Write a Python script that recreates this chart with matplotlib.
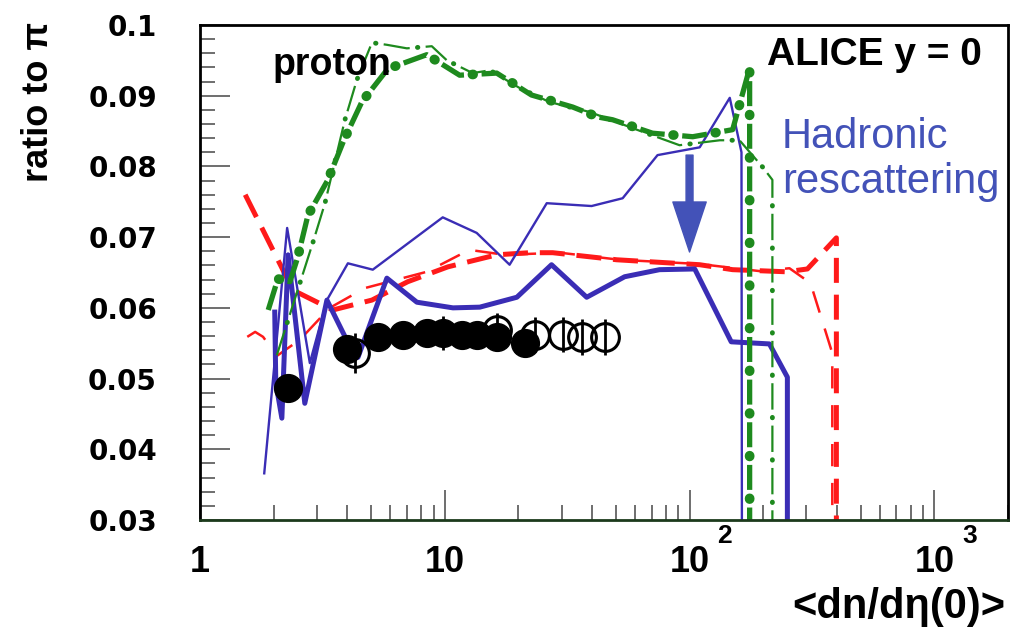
import numpy as np
import matplotlib.pyplot as plt
from matplotlib.ticker import MultipleLocator

plt.rcParams['font.family'] = ['Liberation Sans', 'DejaVu Sans']
plt.rcParams['lines.scale_dashes'] = False

# model curves (x = <dn/deta(0)>, y = ratio to pi)
blue_thin_x = [1.83, 2.27, 2.81, 3.30, 4.02, 5.08, 9.81, 13.5, 18.4, 26.1, 39.8, 53.3, 74.0, 110, 146, 163, 164]
blue_thin_y = [0.0366, 0.0713, 0.0522, 0.0611, 0.0663, 0.0654, 0.0728, 0.0706, 0.0661, 0.0748, 0.0744, 0.0755, 0.0816, 0.0827, 0.0897, 0.0820, 0.0]

blue_thick_x = [2.02, 2.04, 2.16, 2.29, 2.68, 3.30, 4.10, 4.42, 5.80, 7.69, 10.8, 13.9, 19.7, 27.3, 38.0, 54.3, 75.4, 105, 148, 212, 251, 251]
blue_thick_y = [0.0594, 0.0494, 0.0444, 0.0675, 0.0465, 0.0611, 0.0545, 0.0530, 0.0642, 0.0608, 0.0600, 0.0601, 0.0615, 0.0661, 0.0615, 0.0644, 0.0654, 0.0655, 0.0552, 0.0549, 0.0502, 0.0]

red_thick_x = [1.53, 2.40, 3.49, 5.04, 7.06, 10.3, 16.3, 22.2, 27.6, 50.4, 110, 150, 249, 303, 398, 398]
red_thick_y = [0.0760, 0.0625, 0.0597, 0.0611, 0.0637, 0.0658, 0.0675, 0.0678, 0.0678, 0.0668, 0.0661, 0.0654, 0.0651, 0.0655, 0.0699, 0.0]

red_thin_x = [1.56, 1.68, 1.81, 2.06, 2.56, 3.39, 4.72, 8.44, 12.6, 17.6, 29.5, 51.8, 110, 193, 256, 312, 383, 383]
red_thin_y = [0.0559, 0.0566, 0.0559, 0.0532, 0.0555, 0.0600, 0.0628, 0.0651, 0.0682, 0.0675, 0.0678, 0.0668, 0.0662, 0.0652, 0.0656, 0.0635, 0.0536, 0.0]

green_thick_x = [1.90, 2.08, 2.33, 2.51, 2.76, 3.33, 3.87, 4.58, 5.85, 8.44, 11.5, 16.3, 22.6, 33.3, 42.1, 48.5, 70.6, 103, 150, 176, 176]
green_thick_y = [0.0597, 0.0641, 0.0637, 0.0672, 0.0731, 0.0781, 0.0837, 0.0891, 0.0938, 0.0958, 0.0929, 0.0932, 0.0901, 0.0884, 0.0870, 0.0866, 0.0847, 0.0842, 0.0852, 0.0939, 0.0]

green_thin_x = [2.06, 2.89, 3.24, 3.91, 4.37, 5.04, 5.80, 7.0, 8.85, 10.2, 13.0, 15.3, 20.2, 26.8, 39.1, 60.8, 91.0, 133, 160, 199, 218, 218]
green_thin_y = [0.0533, 0.0692, 0.0748, 0.0866, 0.0922, 0.0975, 0.0972, 0.0967, 0.0970, 0.0950, 0.0932, 0.0936, 0.0911, 0.0891, 0.0877, 0.0852, 0.0830, 0.0837, 0.0837, 0.0799, 0.0781, 0.0]

# ALICE data points
filled_x = [2.29, 3.98, 5.33, 6.74, 8.44, 9.81, 11.8, 13.6, 16.3, 21.2]
filled_y = [0.0487, 0.0542, 0.0559, 0.0562, 0.0564, 0.0564, 0.0562, 0.0562, 0.0559, 0.0550]
filled_err = [0.0008, 0.0010, 0.0012, 0.0012, 0.0015, 0.0024, 0.0012, 0.0012, 0.0015, 0.0010]
open_x = [4.29, 16.3, 23.3, 30.3, 36.3, 45.0]
open_y = [0.0536, 0.0568, 0.0562, 0.0562, 0.0559, 0.0559]
open_err = [0.0028, 0.0025, 0.0025, 0.0025, 0.0025, 0.0025]

yticks = [0.03, 0.04, 0.05, 0.06, 0.07, 0.08, 0.09, 0.1]
ytick_labels = ['0.03', '0.04', '0.05', '0.06', '0.07', '0.08', '0.09', '0.1']
xtick_vals = [1, 10, 100, 1000]
xtick_base = ['1', '10', '10', '10']
xtick_exp = ['', '', '2', '3']

blue = '#3a2db5'
blue_txt = '#4352b8'
red = '#ff1a1a'
green = '#1e8a1e'

fig = plt.figure(figsize=(10.11, 6.28), dpi=100)
ax = fig.add_axes([200 / 1011, 108 / 628, 808 / 1011, 495 / 628])
ax.set_xscale('log')
ax.set_xlim(1, 2000)
ax.set_ylim(0.03, 0.1)

ax.plot(red_thin_x, red_thin_y, color=red, lw=1.8, ls=(0, (16, 12)))
ax.plot(red_thick_x, red_thick_y, color=red, lw=3.6, ls=(0, (18, 8.5)))
ax.plot(blue_thin_x, blue_thin_y, color=blue, lw=1.7)
ax.plot(blue_thick_x, blue_thick_y, color=blue, lw=3.6)
ax.plot(green_thin_x, green_thin_y, color=green, lw=1.6, ls=(0, (19, 11.5)))
ax.plot(green_thin_x, green_thin_y, color=green, lw=3.5, ls=(5.9, (0.3, 30.2)), dash_capstyle='round')
ax.plot(green_thick_x, green_thick_y, color=green, lw=3.8, ls=(0, (18, 12.7)))
ax.plot(green_thick_x, green_thick_y, color=green, lw=7, ls=(6.6, (0.5, 30.2)), dash_capstyle='round')

ax.errorbar(filled_x, filled_y, yerr=filled_err, fmt='o', color='k', ms=20,
            elinewidth=2, capsize=0, zorder=5)
ax.errorbar(open_x, open_y, yerr=open_err, fmt='o', mfc='none', mec='k', ms=20,
            mew=2.2, ecolor='k', elinewidth=2, capsize=0, zorder=5)

ax.annotate('', xy=(100, 0.0679), xytext=(100, 0.0816),
            arrowprops=dict(arrowstyle='simple,head_length=3.6,head_width=2.4,tail_width=0.5',
                            color=blue_txt, shrinkA=0, shrinkB=0))

# axes, ROOT style
for s in ax.spines.values():
    s.set_linewidth(2)
    s.set_color('black')
ax.spines['bottom'].set_color('#1c3a1c')
ax.set_yticks(yticks)
ax.set_yticklabels(ytick_labels, fontsize=20, fontweight='bold', family='DejaVu Sans')
ax.yaxis.set_minor_locator(MultipleLocator(0.002))
ax.tick_params(which='both', direction='in', top=False, right=False, color='#555555', width=1.2)
ax.tick_params(which='major', length=21.6)
ax.tick_params(which='minor', length=10.8)
ax.tick_params(axis='y', pad=31)
ax.tick_params(axis='x', which='both', labelbottom=False)

xt = ax.get_xaxis_transform()
for v, b, e in zip(xtick_vals, xtick_base, xtick_exp):
    ax.annotate(b, xy=(v, 0), xycoords=xt, xytext=(0, -42), textcoords='offset pixels',
                ha='center', va='center', fontsize=26, fontweight='bold')
    if e:
        ax.annotate(e, xy=(v, 0), xycoords=xt, xytext=(35, -16), textcoords='offset pixels',
                    ha='center', va='center', fontsize=19, fontweight='bold')

ax.text(0.0903, 0.899, 'proton', transform=ax.transAxes, fontsize=27, fontweight='bold',
        ha='left', va='baseline')
ax.text(0.7017, 0.919, 'ALICE y = 0', transform=ax.transAxes, fontsize=28, fontweight='bold',
        ha='left', va='baseline')
ax.text(0.720, 0.7515, 'Hadronic', transform=ax.transAxes, fontsize=30, color=blue_txt,
        ha='left', va='baseline')
ax.text(0.720, 0.6606, 'rescattering', transform=ax.transAxes, fontsize=30, color=blue_txt,
        ha='left', va='baseline')

fig.text(38 / 1011, 1 - 22 / 628, 'ratio to π', rotation=90, ha='center', va='top',
         fontsize=26, fontweight='bold')
fig.text(1005 / 1011, 1 - 618 / 628, '<dn/dη(0)>', ha='right', va='baseline',
         fontsize=30, fontweight='bold')

fig.savefig('out.png', dpi=100)
